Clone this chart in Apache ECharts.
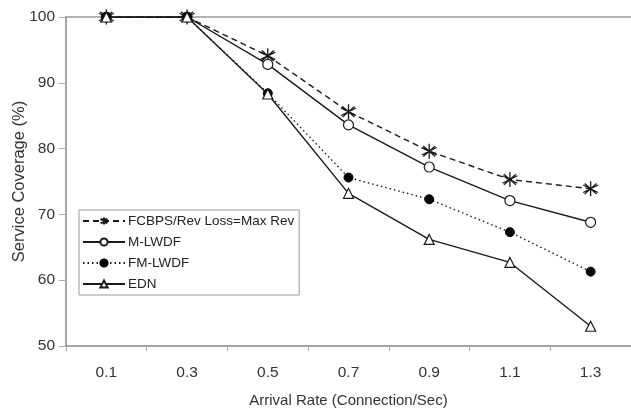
<!DOCTYPE html>
<html><head><meta charset="utf-8">
<script src="https://cdn.jsdelivr.net/npm/echarts@6/dist/echarts.min.js"></script>
<style>html,body{margin:0;padding:0;background:#fff}#c{width:631px;height:413px}</style>
</head><body><div id="c"></div>
<script>
const categories = ['0.1','0.3','0.5','0.7','0.9','1.1','1.3'];
const fcbps = [100, 100, 94.1, 85.6, 79.6, 75.3, 73.9];
const mlwdf = [100, 100, 92.8, 83.6, 77.2, 72.1, 68.8];
const fmlwdf = [100, 100, 88.4, 75.6, 72.3, 67.3, 61.3];
const edn = [100, 100, 88.3, 73.2, 66.2, 62.7, 53.0];
const yTicks = [50, 60, 70, 80, 90, 100];

const star = 'path://M0,-10L0,10M-8.7,-5L8.7,5M-8.7,5L8.7,-5M-7,-7L7,7M-7,7L7,-7';
const lineColor = '#1a1a1a';
const font = 'Liberation Sans, Arial, sans-serif';

const chart = echarts.init(document.getElementById('c'));
chart.setOption({
  animation: false,
  grid: {left: 66, right: 0, top: 17, bottom: 67, outerBoundsMode: 'none', containLabel: false},
  legend: {
    orient: 'vertical', left: 79, top: 210,
    itemWidth: 42, itemHeight: 9, itemGap: 7,
    padding: [4, 5, 4, 3],
    borderColor: '#999', borderWidth: 1,
    textStyle: {fontFamily: font, fontSize: 13.5, color: '#222', padding: [0,0,0,-2]},
    data: ['FCBPS/Rev Loss=Max Rev', 'M-LWDF', 'FM-LWDF', 'EDN']
  },
  xAxis: [{
    type: 'category', data: categories, boundaryGap: true,
    axisLine: {lineStyle: {color: '#888', width: 1.5}},
    axisTick: {show: true, length: 5, lineStyle: {color: '#aaa'}},
    axisLabel: {fontFamily: font, fontSize: 15.5, color: '#333', margin: 19},
    name: 'Arrival Rate (Connection/Sec)', nameLocation: 'middle', nameGap: 47,
    nameTextStyle: {fontFamily: font, fontSize: 15, color: '#333'}
  }, {
    type: 'category', data: categories, position: 'top',
    axisLine: {show: true, lineStyle: {color: '#999', width: 1.5}},
    axisTick: {show: false}, axisLabel: {show: false}
  }],
  yAxis: {
    type: 'value', min: 50, max: 100, interval: 10,
    axisLine: {show: true, lineStyle: {color: '#888', width: 1.5}},
    axisTick: {show: true, length: 7, lineStyle: {color: '#aaa'}},
    splitLine: {show: false},
    axisLabel: {fontFamily: font, fontSize: 15.5, color: '#333', margin: 11,
      formatter: v => yTicks.includes(v) ? String(v) : ''},
    name: 'Service Coverage (%)', nameLocation: 'middle', nameGap: 38,
    nameMoveOverlap: false,
    nameTextStyle: {fontFamily: font, fontSize: 16.5, color: '#333'}
  },
  series: [
    {name: 'FCBPS/Rev Loss=Max Rev', type: 'line', data: fcbps,
     symbol: star, symbolSize: 15,
     lineStyle: {color: lineColor, width: 1.4, type: [6, 4]},
     itemStyle: {color: lineColor, borderColor: lineColor, borderWidth: 1.3}},
    {name: 'M-LWDF', type: 'line', data: mlwdf,
     symbol: 'circle', symbolSize: 10,
     lineStyle: {color: lineColor, width: 1.4},
     itemStyle: {color: '#fff', borderColor: lineColor, borderWidth: 1.2}},
    {name: 'FM-LWDF', type: 'line', data: fmlwdf,
     symbol: 'circle', symbolSize: 9,
     lineStyle: {color: lineColor, width: 1.4, type: [1.5, 3]},
     itemStyle: {color: '#000', borderColor: '#000', borderWidth: 1}},
    {name: 'EDN', type: 'line', data: edn,
     symbol: 'triangle', symbolSize: 10,
     lineStyle: {color: lineColor, width: 1.4},
     itemStyle: {color: '#fff', borderColor: lineColor, borderWidth: 1.2}}
  ]
});
</script></body></html>
